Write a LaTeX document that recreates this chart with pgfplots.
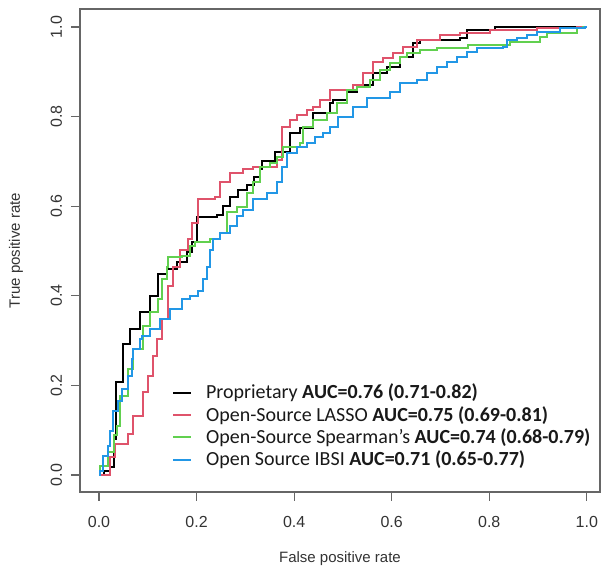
\documentclass[border=0pt]{standalone}
\usepackage{fontspec}
\setmainfont{Liberation Sans}
\newfontfamily\legfont{Carlito}
\usepackage{pgfplots}
\pgfplotsset{compat=1.18}

\definecolor{rblack}{HTML}{000000}
\definecolor{rred}{HTML}{DF536B}
\definecolor{rgreen}{HTML}{61D04F}
\definecolor{rblue}{HTML}{2297E6}

\begin{document}
\begin{tikzpicture}
\begin{axis}[
    at={(0,0)}, anchor=south west,
    scale only axis, width=260pt, height=241.5pt,
    xmin=-0.039, xmax=1.027, ymin=-0.038, ymax=1.040,
    axis line style={black!60, line width=0.7pt},
    xtick={0,0.2,0.4,0.6,0.8,1}, ytick={0,0.2,0.4,0.6,0.8,1},
    tick align=outside, tick pos=left,
    major tick length=4.5pt,
    every tick/.style={black!60, line width=0.6pt},
    /pgf/number format/.cd, fixed, fixed zerofill, precision=1, assume math mode=true,
    /pgfplots/.cd,
    ticklabel style={font=\fontsize{8}{9}\selectfont, text=black!80},
    xticklabel shift=4pt,
    yticklabel style={rotate=90, anchor=south},
    yticklabel shift=1pt,
    xlabel={False positive rate}, ylabel={True positive rate},
    label style={font=\fontsize{7.5}{9}\selectfont, text=black!80},
    xlabel style={at={(axis description cs:0.5,-0.137)}, anchor=center},
    ylabel style={at={(axis description cs:-0.123,0.5)}, anchor=center},
    legend style={at={(axis cs:0.149,0.213)}, anchor=north west, draw=none, fill=none,
        font=\legfont\fontsize{10}{11}\selectfont, text=black!90,
        row sep=-1.8pt, column sep=5pt, inner sep=0pt},
    legend cell align=left,
    legend image code/.code={\draw[#1, line width=1pt] (0pt,0pt) -- (9pt,0pt);},
    every axis plot/.append style={const plot, line width=1pt},
]
\addplot[color=rblack] coordinates {
(0,0) (0.010,0.009) (0.023,0.018) (0.030,0.080) (0.035,0.207) (0.049,0.292)
(0.064,0.325) (0.084,0.363) (0.105,0.399) (0.121,0.448) (0.139,0.459)
(0.160,0.475) (0.180,0.497) (0.190,0.519) (0.201,0.575) (0.242,0.580)
(0.255,0.600) (0.268,0.621) (0.285,0.635) (0.303,0.648) (0.318,0.665)
(0.330,0.682) (0.334,0.700) (0.360,0.720) (0.391,0.764) (0.412,0.775)
(0.439,0.808) (0.473,0.831) (0.480,0.837) (0.508,0.855) (0.529,0.871)
(0.561,0.898) (0.590,0.911) (0.617,0.933) (0.643,0.964) (0.658,0.971)
(0.740,0.975) (0.754,0.993) (0.811,1.000) (1,1)
};
\addlegendentry{Proprietary \textbf{AUC=0.76 (0.71-0.82)}}
\addplot[color=rred] coordinates {
(0,0) (0.023,0.040) (0.033,0.069) (0.059,0.091) (0.070,0.131) (0.090,0.185)
(0.100,0.220) (0.111,0.265) (0.119,0.303) (0.129,0.347) (0.141,0.421)
(0.152,0.465) (0.166,0.503) (0.182,0.526) (0.191,0.563) (0.203,0.615)
(0.238,0.621) (0.248,0.653) (0.268,0.675) (0.295,0.682) (0.316,0.688)
(0.365,0.704) (0.375,0.777) (0.391,0.793) (0.406,0.804) (0.426,0.815)
(0.439,0.822) (0.453,0.837) (0.473,0.860) (0.520,0.871) (0.541,0.898)
(0.561,0.922) (0.582,0.931) (0.602,0.942) (0.623,0.955) (0.652,0.971)
(0.699,0.982) (0.740,0.987) (0.801,0.993) (0.898,0.998) (0.980,1.000) (1,1)
};
\addlegendentry{Open-Source LASSO \textbf{AUC=0.75 (0.69-0.81)}}
\addplot[color=rgreen] coordinates {
(0,0) (0.002,0.020) (0.018,0.051) (0.030,0.090) (0.037,0.109) (0.043,0.176)
(0.059,0.236) (0.070,0.281) (0.090,0.332) (0.105,0.363) (0.121,0.392)
(0.129,0.437) (0.139,0.465) (0.141,0.486) (0.170,0.488) (0.186,0.510)
(0.197,0.519) (0.227,0.526) (0.248,0.541) (0.262,0.586) (0.283,0.599)
(0.303,0.630) (0.316,0.653) (0.330,0.688) (0.350,0.697) (0.365,0.710)
(0.377,0.733) (0.412,0.742) (0.418,0.777) (0.439,0.793) (0.467,0.808)
(0.488,0.831) (0.508,0.860) (0.529,0.866) (0.555,0.882) (0.576,0.904)
(0.596,0.920) (0.617,0.933) (0.631,0.942) (0.658,0.949) (0.693,0.953)
(0.756,0.960) (0.842,0.967) (0.904,0.978) (0.918,0.987) (0.980,0.998)
(0.992,1.000) (1,1)
};
\addlegendentry{Open-Source Spearman’s \textbf{AUC=0.74 (0.68-0.79)}}
\addplot[color=rblue] coordinates {
(0,0) (0.002,0.009) (0.008,0.042) (0.018,0.065) (0.023,0.098) (0.029,0.143)
(0.039,0.165) (0.047,0.192) (0.059,0.220) (0.068,0.258) (0.070,0.281)
(0.084,0.303) (0.088,0.310) (0.105,0.325) (0.125,0.347) (0.145,0.370)
(0.170,0.392) (0.186,0.399) (0.203,0.410) (0.213,0.437) (0.221,0.465)
(0.227,0.503) (0.234,0.526) (0.248,0.541) (0.268,0.555) (0.283,0.577)
(0.295,0.592) (0.316,0.615) (0.344,0.630) (0.365,0.653) (0.375,0.688)
(0.385,0.719) (0.406,0.731) (0.426,0.742) (0.443,0.755) (0.459,0.764)
(0.473,0.777) (0.490,0.800) (0.520,0.822) (0.549,0.842) (0.582,0.842)
(0.596,0.855) (0.617,0.875) (0.652,0.882) (0.672,0.898) (0.693,0.911)
(0.713,0.922) (0.734,0.933) (0.754,0.944) (0.775,0.953) (0.828,0.955)
(0.836,0.971) (0.857,0.976) (0.877,0.982) (0.898,0.989) (0.945,0.998)
(0.996,1.000) (1,1)
};
\addlegendentry{Open Source IBSI \textbf{AUC=0.71 (0.65-0.77)}}
\end{axis}
\pgfresetboundingbox
\path (-40pt,-37.5pt) rectangle (261pt,246pt);
\end{tikzpicture}
\end{document}
